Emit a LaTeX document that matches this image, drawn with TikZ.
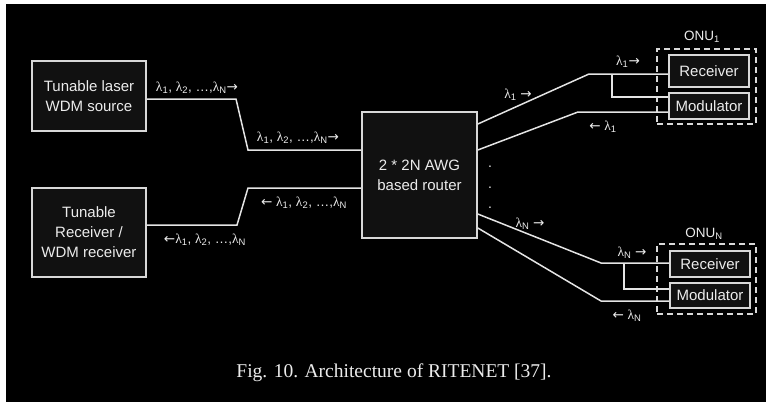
\documentclass[tikz,border=0pt]{standalone}
\usepackage{fontspec}
\setmainfont{Liberation Sans}
\newfontfamily\capfont{Liberation Serif}
\newfontfamily\arrfont{DejaVu Sans}
\newcommand{\lam}[1]{{\capfont λ}\textsubscript{#1}}
\newcommand{\rar}{{\arrfont →}}
\newcommand{\lar}{{\arrfont ←}}
\definecolor{boxc}{HTML}{D8D8D8}
\definecolor{boxfill}{HTML}{111111}
\definecolor{linec}{HTML}{E4E4E4}
\definecolor{txt}{HTML}{ECECEC}
\begin{document}
\begin{tikzpicture}[x=1pt,y=-1pt,
  box/.style={draw=boxc, line width=1.6pt, fill=boxfill, text=txt,
    font=\fontsize{15}{20}\selectfont, align=center, inner sep=0pt},
  onubox/.style={draw=boxc, line width=1.6pt, dashed, dash pattern=on 6pt off 4pt},
  wire/.style={draw=linec, line width=1.5pt},
  lbl/.style={text=txt, font=\fontsize{13.5}{15}\selectfont, inner sep=0pt},
  dotlbl/.style={text=txt, font=\fontsize{14}{14}\selectfont, inner sep=0pt}]
\fill[white] (0,0) rectangle (766,402);
\fill[black] (6,4) rectangle (766,402);
\useasboundingbox (0,0) rectangle (766,402);

% boxes
\node[box, minimum width=114pt, minimum height=70pt] (laser) at (89,96) {Tunable laser\\WDM source};
\node[box, minimum width=114pt, minimum height=89pt] (rx) at (89,232.5) {Tunable\\Receiver /\\WDM receiver};
\node[box, minimum width=115pt, minimum height=126pt] (awg) at (419.5,175) {2 * 2N AWG\\based router};

\node[onubox, minimum width=99pt, minimum height=75pt] (onu1) at (706.5,86.5) {};
\node[box, minimum width=80pt, minimum height=32pt] (rec1) at (709,71) {Receiver};
\node[box, minimum width=80pt, minimum height=26pt] (mod1) at (709,106) {Modulator};

\node[onubox, minimum width=99pt, minimum height=70pt] (onuN) at (706.5,279) {};
\node[box, minimum width=80pt, minimum height=26pt] (recN) at (710,264) {Receiver};
\node[box, minimum width=80pt, minimum height=25pt] (modN) at (710,295.5) {Modulator};

% left wires
\draw[wire] (laser.east |- 0,99) -- (236,99) -- (248,150) -- (awg.west |- 0,150);
\draw[wire] (awg.west |- 0,188) -- (248,188) -- (237,225) -- (rx.east |- 0,225);

% right wires, ONU 1
\draw[wire] (awg.east |- 0,124) -- (589,74) -- (rec1.west |- 0,74);
\draw[wire] (612,74) -- (612,97) -- (mod1.west |- 0,97);
\draw[wire] (awg.east |- 0,150) -- (578,112) -- (mod1.west |- 0,112);

% right wires, ONU N
\draw[wire] (awg.east |- 0,214) -- (601,263) -- (recN.west |- 0,263);
\draw[wire] (624,263) -- (624,289) -- (modN.west |- 0,289);
\draw[wire] (awg.east |- 0,228) -- (601,301) -- (modN.west |- 0,301);

% labels
\node[lbl] (l1) at (197,88) {\lam{1}, \lam{2}, …,\lam{N}\rar};
\node[lbl] (l2) at (298,138) {\lam{1}, \lam{2}, …,\lam{N}\rar};
\node[lbl] (l3) at (304,203) {\lar{} \lam{1}, \lam{2}, …,\lam{N}};
\node[lbl] (l4) at (205,240) {\lar\lam{1}, \lam{2}, …,\lam{N}};

\node[lbl] (l5) at (518,95) {\lam{1} \rar};
\node[lbl] (l6) at (628,62) {\lam{1}\rar};
\node[lbl] (l7) at (603,127) {\lar{} \lam{1}};
\node[lbl] (l8) at (530,224) {\lam{N} \rar};
\node[lbl] (l9) at (632,253) {\lam{N} \rar};
\node[lbl] (l10) at (627,316) {\lar{} \lam{N}};

\node[lbl] (o1) at (702,37) {ONU\textsubscript{1}};
\node[lbl] (oN) at (704,234) {ONU\textsubscript{N}};

\node[dotlbl] (d1) at (490,167) {.};
\node[dotlbl] (d2) at (490,188) {.};
\node[dotlbl] (d3) at (490,208) {.};

\node[text=txt, font=\capfont\fontsize{19.5}{22}\selectfont, inner sep=0pt] (cap) at (394,373) {Fig. 10. Architecture of RITENET [37].};
\end{tikzpicture}
\end{document}
